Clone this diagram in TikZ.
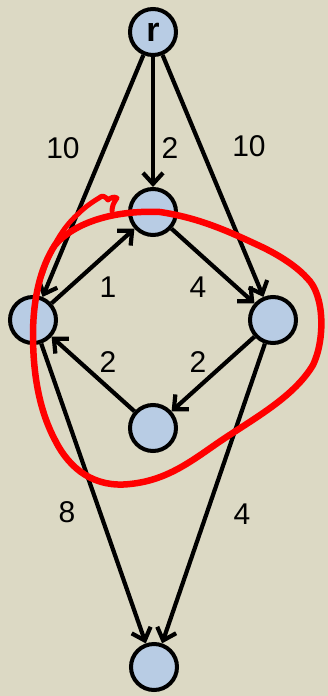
\documentclass[tikz,border=0pt]{standalone}
\usepackage{fontspec}
\setmainfont{Liberation Sans}
\usetikzlibrary{arrows.meta}
\definecolor{bgcol}{RGB}{220,217,196}
\definecolor{nodefill}{RGB}{184,204,228}
\definecolor{penred}{RGB}{255,0,0}
\begin{document}
\begin{tikzpicture}[x=1pt,y=-1pt,
  vert/.style={circle,draw=black,fill=nodefill,line width=4pt,minimum size=46pt,inner sep=0pt,font=\fontsize{34}{34}\selectfont\bfseries},
  edge/.style={line width=4.2pt,-{Straight Barb[length=11pt,width=20pt]}},
  wlabel/.style={font=\fontsize{30}{30}\selectfont,inner sep=0pt},
  redpen/.style={draw=penred,line width=6.5pt,line cap=round,line join=round}]
\fill[bgcol] (0,0) rectangle (328,696);
\useasboundingbox (0,0) rectangle (328,696);
\node[vert] (r) at (153,32) {r};
\node[vert] (t) at (153,212) {};
\node[vert] (l) at (33,320) {};
\node[vert] (rt) at (273,320) {};
\node[vert] (m) at (153,428) {};
\node[vert] (b) at (154,667) {};
\draw[edge] (r) -- (l);
\draw[edge] (r) -- (t);
\draw[edge] (r) -- (rt);
\draw[edge] (l) -- (t);
\draw[edge] (t) -- (rt);
\draw[edge] (rt) -- (m);
\draw[edge] (m) -- (l);
\draw[edge] (l) -- (b);
\draw[edge] (rt) -- (b);
\node[wlabel] (w1) at (63,148) {10};
\node[wlabel] (w2) at (170,148) {2};
\node[wlabel] (w3) at (249,146) {10};
\node[wlabel] (w4) at (108,287) {1};
\node[wlabel] (w5) at (198,287) {4};
\node[wlabel] (w6) at (108,362) {2};
\node[wlabel] (w7) at (198,362) {2};
\node[wlabel] (w8) at (67,512) {8};
\node[wlabel] (w9) at (242,514) {4};
% red hand-drawn loop
\draw[redpen] (160,212) .. controls (200,218) and (230,232) .. (262,247)
  .. controls (285,258) and (300,270) .. (307,278)
  .. controls (325,295) and (325,340) .. (313,365)
  .. controls (295,395) and (260,415) .. (225,438)
  .. controls (195,458) and (170,480) .. (130,484)
  .. controls (95,488) and (70,470) .. (55,440)
  .. controls (38,408) and (33,370) .. (33,335)
  .. controls (33,300) and (40,268) .. (55,245)
  .. controls (75,222) and (115,210) .. (160,212);
\draw[redpen,line width=5pt] (42,275) .. controls (50,250) and (62,228) .. (78,214)
  .. controls (86,206) and (94,201) .. (99,198)
  .. controls (102,195) and (105,196) .. (108,200)
  .. controls (110,198) and (114,196) .. (117,198)
  .. controls (114,202) and (112,206) .. (112,211);
\end{tikzpicture}
\end{document}
